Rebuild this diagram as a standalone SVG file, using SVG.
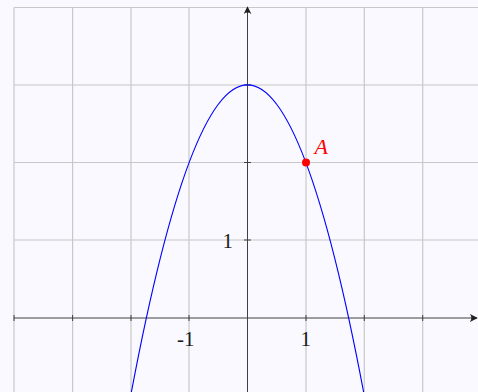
<svg xmlns="http://www.w3.org/2000/svg" width="478" height="392" viewBox="0 0 478 392">
<style>
.grid{stroke:#c8c8c8;stroke-width:1.2;fill:none}
.axis{stroke:#404040;stroke-width:1;fill:none}
.tick{stroke:#404040;stroke-width:1}
.lbl{font-family:"Liberation Serif","DejaVu Serif",serif;font-size:21px;fill:#1a1a1a}
.curve{stroke:#0000ff;stroke-width:1.1;fill:none}
</style>
<defs>
<marker id="arr" viewBox="0 0 10 10" refX="9" refY="5" markerWidth="8" markerHeight="8" markerUnits="userSpaceOnUse" orient="auto">
<path d="M0,0 Q4,5 0,10 L10,5 Z" fill="#202020"/>
</marker>
</defs>
<rect width="478" height="392" fill="#f9f9ff"/>
<g id="grid" class="grid">
<path d="M14,7.5H478M14,85H478M14,162.5H478M14,240H478"/>
<path d="M14,7.5V392M72.6,7.5V392M131,7.5V392M189,7.5V392M306,7.5V392M364.3,7.5V392M422.7,7.5V392"/>
</g>
<g id="axes">
<line class="axis" x1="14" y1="318" x2="477" y2="318" marker-end="url(#arr)"/>
<line class="axis" x1="247.5" y1="392" x2="247.5" y2="7" marker-end="url(#arr)"/>
<path class="tick" d="M14,315V321M72.6,315V321M131,315V321M189,315V321M306,315V321M364.3,315V321M422.7,315V321"/>
<path class="tick" d="M244,240H251M244,162.5H251M244,85H251"/>
</g>
<g id="labels">
<text class="lbl" x="222.5" y="247.5">1</text>
<text class="lbl" x="177" y="345.5">-1</text>
<text class="lbl" x="300.5" y="345.5">1</text>
</g>
<g id="connectors">
<path id="parabola" class="curve" d="M130.7,395.7Q247.5,-225.9 364.3,395.7"/>
</g>
<g id="pointA">
<circle cx="306" cy="162.5" r="4" fill="#ff0000"/>
<text x="314.5" y="153.5" style="font-family:'Liberation Serif','DejaVu Serif',serif;font-size:22px;font-style:italic;fill:#ff0000">A</text>
</g>
</svg>
